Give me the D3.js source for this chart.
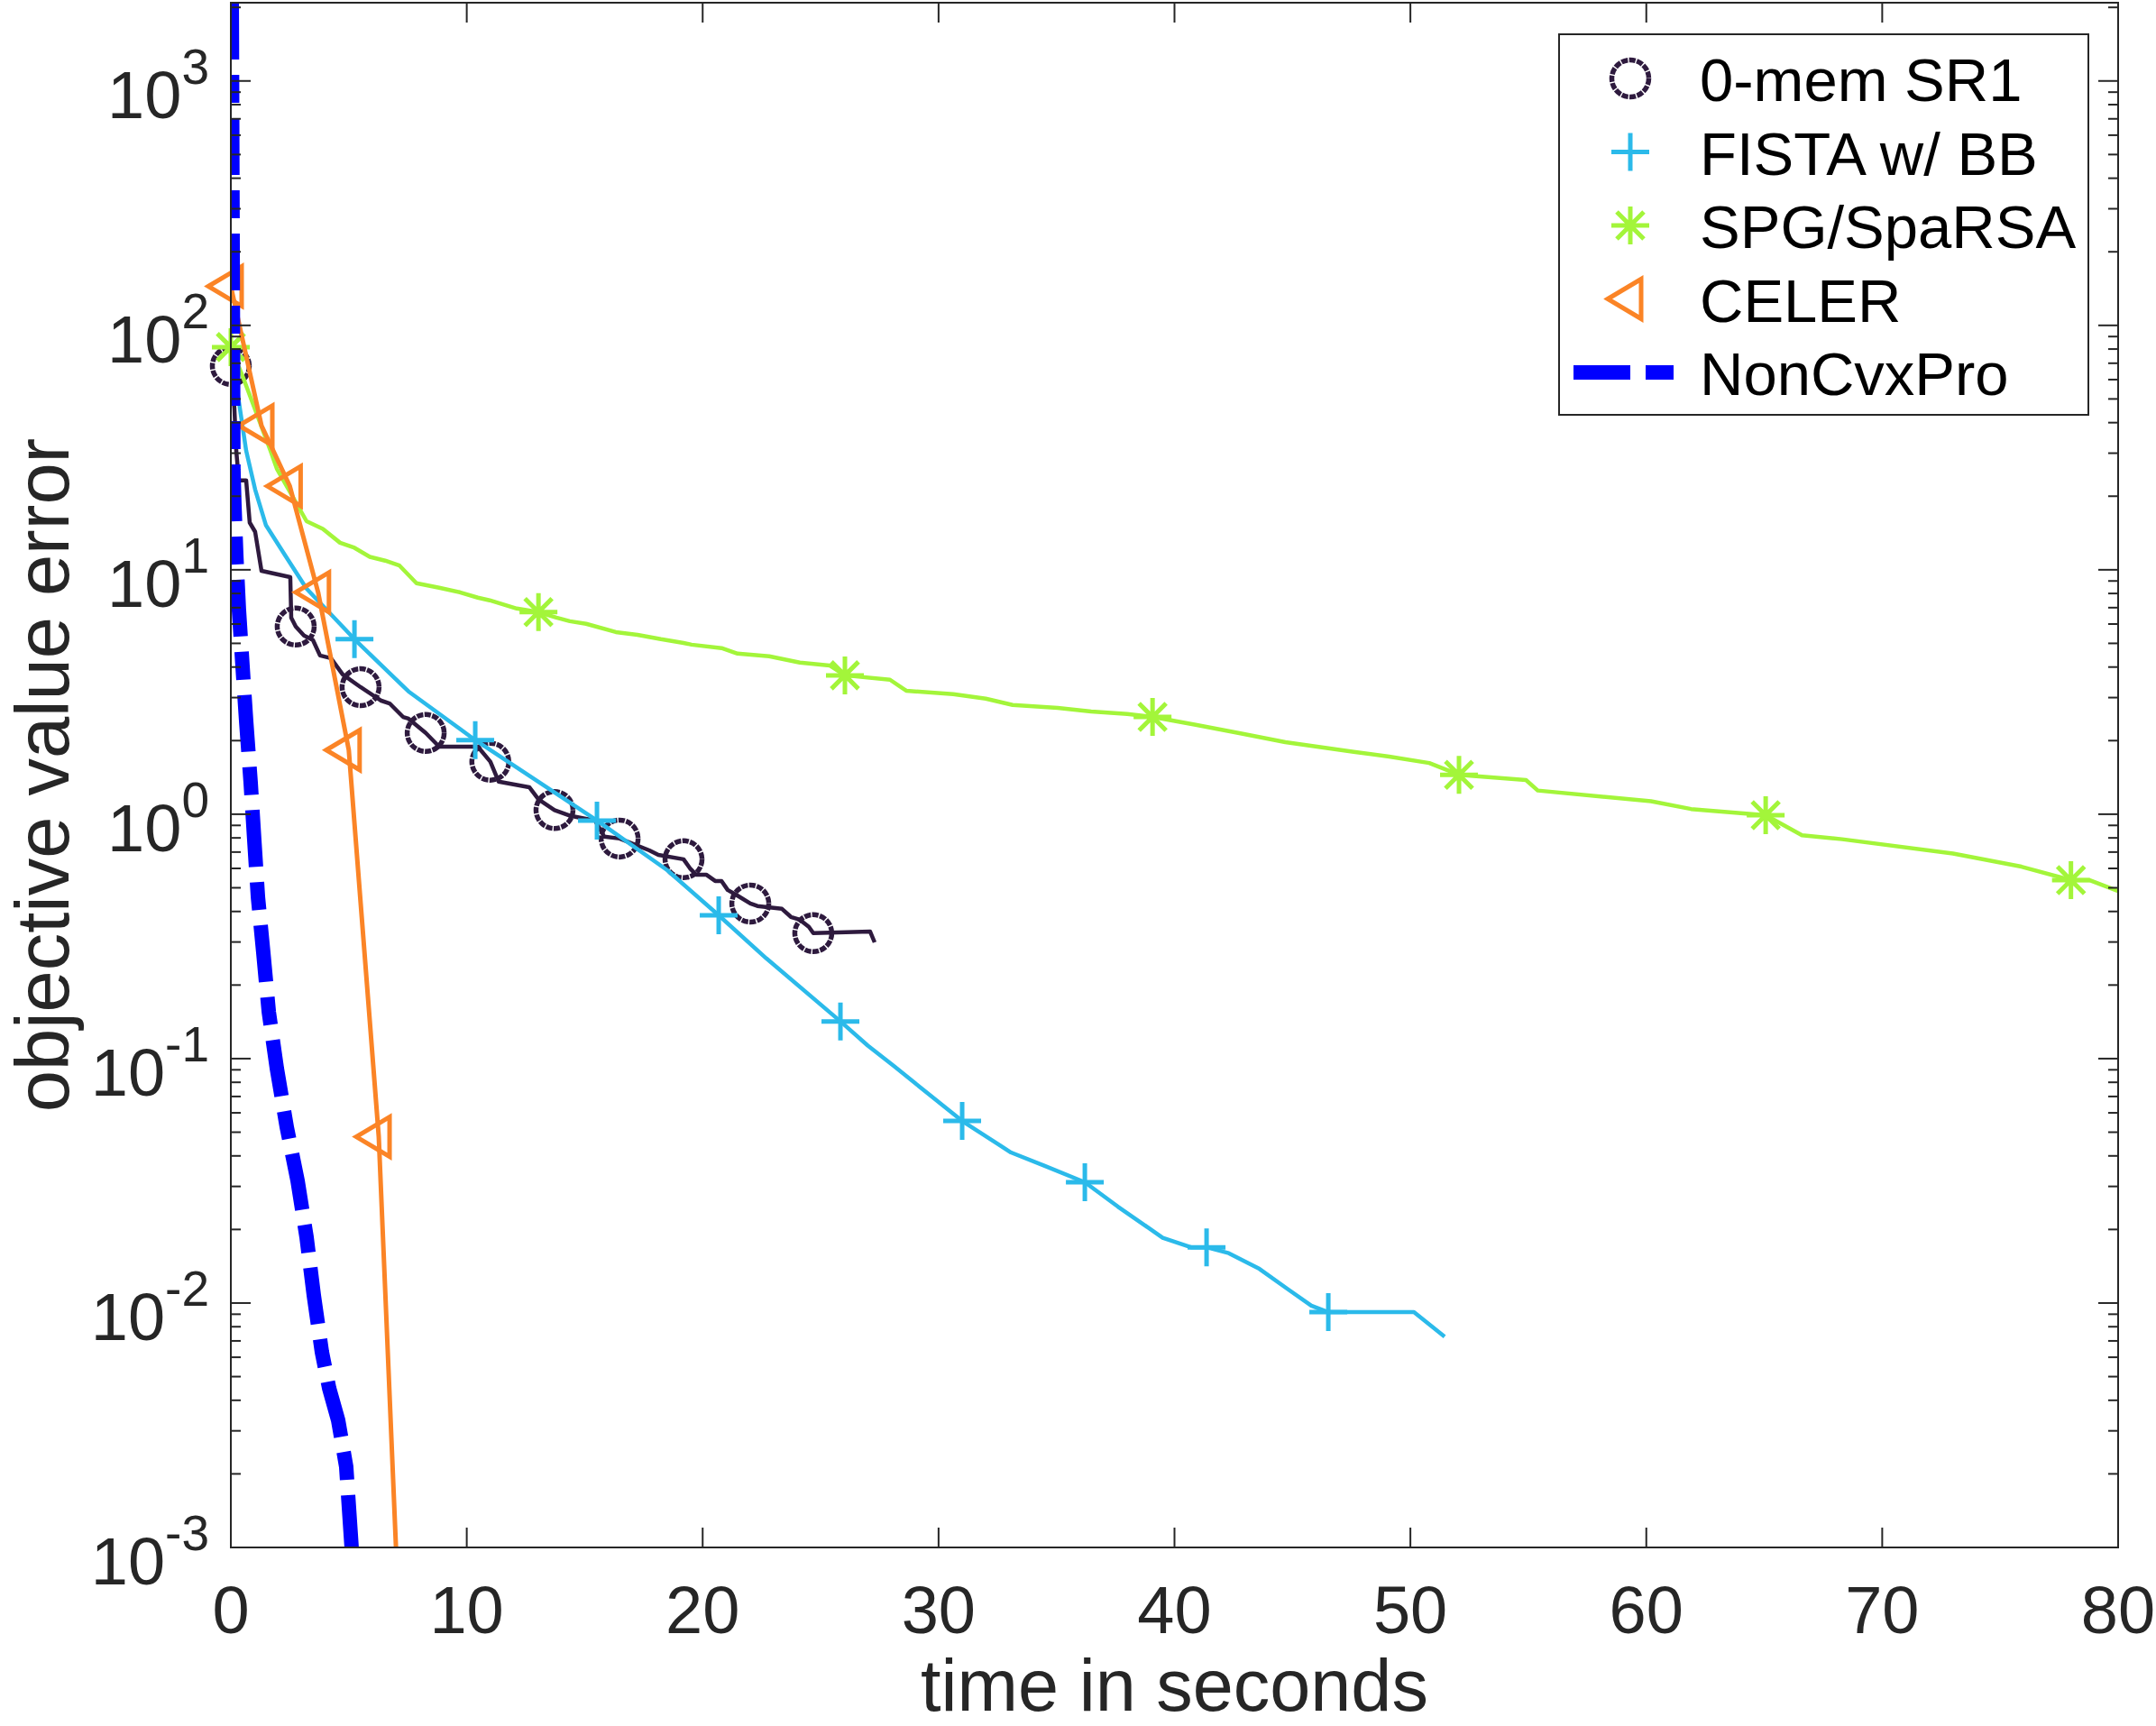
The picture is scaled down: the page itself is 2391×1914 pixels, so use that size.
<!DOCTYPE html>
<html><head><meta charset="utf-8">
<script src="https://cdn.jsdelivr.net/npm/d3@7"></script>
<style>
body{margin:0;background:#fff}
svg{display:block}
text{font-family:"Liberation Sans",Arial,Helvetica,sans-serif}
</style>
</head><body>
<svg id="c" width="2391" height="1914"></svg>
<script>
// ---------------- data ----------------
const xDomain = [0, 80];
const yDomain = [1e-3, 2090];
const xTicks = [0, 10, 20, 30, 40, 50, 60, 70, 80];
const yTickExps = [-3, -2, -1, 0, 1, 2, 3];

const seriesNames = ["0-mem SR1", "FISTA w/ BB", "SPG/SpaRSA", "CELER", "NonCvxPro"];

// 0-mem SR1
const sr1T = [0, 0.15, 0.23, 0.34, 0.65, 0.80, 1.03, 1.30, 2.52, 2.56, 2.75, 3.10, 3.48, 3.78, 4.24, 4.74, 5.50, 6.35, 6.73, 7.30, 7.53, 8.26, 8.83, 10.47, 11.0, 11.35, 12.65, 13.04, 13.72, 14.41, 15.44, 15.83, 16.48, 17.74, 18.12, 19.19, 19.46, 19.72, 20.15, 20.53, 20.80, 21.06, 21.45, 22.02, 22.32, 23.36, 23.74, 24.12, 24.50, 24.69, 27.10, 27.29];
const sr1V = [68.2, 45.8, 30.7, 23.2, 23.2, 15.6, 14.3, 9.9, 9.33, 6.37, 5.86, 5.38, 5.16, 4.46, 4.35, 3.73, 3.31, 2.92, 2.84, 2.50, 2.46, 2.15, 1.89, 1.89, 1.64, 1.36, 1.29, 1.15, 1.04, 0.984, 0.942, 0.809, 0.795, 0.711, 0.682, 0.654, 0.601, 0.566, 0.566, 0.533, 0.533, 0.490, 0.466, 0.431, 0.421, 0.410, 0.380, 0.370, 0.346, 0.326, 0.331, 0.299];
const sr1MarkT = [0, 2.75, 5.50, 8.26, 11.0, 13.72, 16.48, 19.19, 22.02, 24.69];
const sr1MarkV = [68.2, 5.86, 3.31, 2.15, 1.64, 1.04, 0.795, 0.654, 0.431, 0.326];

// FISTA w/ BB
const fistaT = [0, 0.27, 0.65, 1.03, 1.49, 2.33, 3.21, 5.24, 7.53, 10.36, 15.52, 18.5, 20.68, 22.7, 25.84, 27.0, 28.1, 31.0, 33.07, 34.5, 36.2, 37.6, 39.5, 40.7, 41.36, 42.3, 43.6, 44.8, 45.8, 46.52, 50.15, 51.45];
const fistaV = [79, 54.2, 30.7, 21.3, 15.2, 11.35, 8.37, 5.20, 3.18, 2.01, 0.942, 0.590, 0.386, 0.257, 0.142, 0.113, 0.0933, 0.0556, 0.0413, 0.0364, 0.0312, 0.0248, 0.0185, 0.0169, 0.0169, 0.0160, 0.0138, 0.0114, 0.00975, 0.00918, 0.00918, 0.00729];
const fistaMarkT = [5.24, 10.36, 15.52, 20.68, 25.84, 31.0, 36.2, 41.36, 46.52];
const fistaMarkV = [5.20, 2.01, 0.942, 0.386, 0.142, 0.0556, 0.0312, 0.0169, 0.00918];

// SPG/SpaRSA
const spgT = [0, 0.54, 1.68, 1.95, 2.45, 3.21, 3.90, 4.63, 5.24, 5.89, 6.54, 7.15, 7.87, 8.83, 9.71, 10.47, 10.97, 12.12, 13.04, 13.80, 14.37, 15.06, 16.32, 17.24, 18.23, 19.19, 19.53, 20.80, 21.48, 22.82, 24.12, 25.38, 26.03, 27.94, 28.63, 30.62, 32.0, 33.14, 35.05, 36.47, 38.0, 39.07, 40.9, 42.7, 44.7, 47.6, 49.1, 50.8, 52.06, 54.9, 55.4, 60.2, 61.9, 65.06, 66.6, 68.3, 73.0, 75.9, 78.0, 78.8, 80];
const spgV = [81.5, 60.5, 30.7, 25.9, 21.3, 15.8, 14.7, 12.9, 12.3, 11.3, 10.9, 10.4, 8.81, 8.44, 8.09, 7.69, 7.50, 6.94, 6.71, 6.37, 6.16, 6.01, 5.56, 5.42, 5.20, 5.02, 4.94, 4.78, 4.54, 4.43, 4.17, 4.06, 3.70, 3.55, 3.20, 3.10, 2.97, 2.80, 2.72, 2.63, 2.57, 2.50, 2.32, 2.15, 1.97, 1.80, 1.72, 1.62, 1.45, 1.38, 1.25, 1.13, 1.05, 0.99, 0.82, 0.79, 0.69, 0.61, 0.537, 0.537, 0.485];
const spgMarkT = [0, 13.04, 26.03, 39.07, 52.06, 65.06, 78.0];
const spgMarkV = [81.5, 6.71, 3.70, 2.50, 1.45, 0.99, 0.537];

// CELER
const celerT = [0, 1.3, 2.5, 3.7, 5.0, 6.27, 7.0];
const celerV = [144.5, 38.9, 22.0, 8.09, 1.83, 0.0479, 0.001];
const celerMarkT = [0, 1.3, 2.5, 3.7, 5.0, 6.27];
const celerMarkV = [144.5, 38.9, 22.0, 8.09, 1.83, 0.0479];

// NonCvxPro
const ncT = [0.04, 0.11, 0.15, 0.23, 0.34, 0.50, 0.65, 0.84, 0.99, 1.15, 1.38, 1.61, 1.95, 2.37, 2.83, 3.21, 3.52, 3.86, 4.17, 4.55, 4.89, 5.12];
const ncV = [2090, 25.7, 18.6, 11.5, 6.92, 3.98, 2.40, 1.35, 0.794, 0.457, 0.269, 0.155, 0.0912, 0.0525, 0.0316, 0.0186, 0.0107, 0.0063, 0.00447, 0.00331, 0.00214, 0.001];

// ---------------- layout / style ----------------
const W = 2391, H = 1914;
const M = {l: 256, r: 2349, t: 3, b: 1716};
const AX = "#262626";
const colors = {sr1: "#2e1a3e", fista: "#2bbaea", spg: "#a3f53a", celer: "#fb8426", nc: "#0000ff"};

const svg = d3.select("#c");
svg.append("rect").attr("width", W).attr("height", H).attr("fill", "#fff");

const x = d3.scaleLinear().domain(xDomain).range([M.l, M.r]);
const y = d3.scaleLog().domain(yDomain).range([M.b, M.t]);

svg.append("defs").append("clipPath").attr("id", "plotclip")
  .append("rect").attr("x", M.l).attr("y", M.t).attr("width", M.r - M.l).attr("height", M.b - M.t);

const line = d3.line().x(d => x(d[0])).y(d => y(d[1]));
const zip = (a, b) => a.map((v, i) => [v, b[i]]);

const plot = svg.append("g");

function drawMarker(g, type, cx, cy, color) {
  const mg = g.append("g").attr("transform", `translate(${cx},${cy})`)
    .attr("fill", "none").attr("stroke", color);
  if (type === "circle") {
    mg.append("circle").attr("r", 20.5).attr("stroke-width", 5.5).attr("stroke-dasharray", "7.2 1.4");
  } else if (type === "plus") {
    mg.append("path").attr("d", "M-21,0H21M0,-21V21").attr("stroke-width", 5);
  } else if (type === "star") {
    mg.append("path").attr("d", "M-21,0H21M0,-21V21M-15,-15L15,15M-15,15L15,-15").attr("stroke-width", 5);
  } else if (type === "tri") {
    mg.append("path").attr("d", "M-25,0L12,-22L12,22Z").attr("stroke-width", 5).attr("stroke-linejoin", "miter");
  }
}

function series(T, V, mT, mV, color, type, width) {
  plot.append("path").datum(zip(T, V)).attr("d", line)
    .attr("fill", "none").attr("stroke", color).attr("stroke-width", width)
    .attr("stroke-linejoin", "round").attr("clip-path", "url(#plotclip)");
  const g = plot.append("g");
  zip(mT, mV).forEach(d => drawMarker(g, type, x(d[0]), y(d[1]), color));
}

series(sr1T, sr1V, sr1MarkT, sr1MarkV, colors.sr1, "circle", 4.5);
series(fistaT, fistaV, fistaMarkT, fistaMarkV, colors.fista, "plus", 4.5);
series(spgT, spgV, spgMarkT, spgMarkV, colors.spg, "star", 4.5);
series(celerT, celerV, celerMarkT, celerMarkV, colors.celer, "tri", 5);

plot.append("path").datum(zip(ncT, ncV)).attr("d", line)
  .attr("fill", "none").attr("stroke", colors.nc).attr("stroke-width", 16)
  .attr("stroke-dasharray", "63 17 31 17").attr("stroke-linecap", "butt")
  .attr("clip-path", "url(#plotclip)");

// ---------------- axes ----------------
const ax = svg.append("g").attr("stroke", AX).attr("stroke-width", 2);
ax.append("rect").attr("x", M.l).attr("y", M.t).attr("width", M.r - M.l).attr("height", M.b - M.t).attr("fill", "none");

xTicks.forEach(v => {
  ax.append("line").attr("x1", x(v)).attr("x2", x(v)).attr("y1", M.b).attr("y2", M.b - 22);
  ax.append("line").attr("x1", x(v)).attr("x2", x(v)).attr("y1", M.t).attr("y2", M.t + 22);
});
yTickExps.forEach(e => {
  const v = Math.pow(10, e);
  ax.append("line").attr("x1", M.l).attr("x2", M.l + 22).attr("y1", y(v)).attr("y2", y(v));
  ax.append("line").attr("x1", M.r).attr("x2", M.r - 22).attr("y1", y(v)).attr("y2", y(v));
  for (let m = 2; m <= 9; m++) {
    const mv = m * v;
    if (mv > yDomain[1]) break;
    ax.append("line").attr("x1", M.l).attr("x2", M.l + 11).attr("y1", y(mv)).attr("y2", y(mv));
    ax.append("line").attr("x1", M.r).attr("x2", M.r - 11).attr("y1", y(mv)).attr("y2", y(mv));
  }
});

const tl = svg.append("g").attr("fill", AX);
xTicks.forEach(v => {
  tl.append("text").attr("x", x(v)).attr("y", 1811).attr("text-anchor", "middle")
    .attr("font-size", 74).text(v);
});
yTickExps.forEach(e => {
  const t = tl.append("text").attr("x", M.l - 24).attr("y", y(Math.pow(10, e)) + 41)
    .attr("text-anchor", "end").attr("font-size", 74);
  t.append("tspan").text("10");
  t.append("tspan").attr("dy", -38).attr("font-size", 55).text(String(e));
});

tl.append("text").attr("x", (M.l + M.r) / 2).attr("y", 1897).attr("text-anchor", "middle")
  .attr("font-size", 81).text("time in seconds");
tl.append("text").attr("transform", `translate(76,${(M.t + M.b) / 2}) rotate(-90)`)
  .attr("text-anchor", "middle").attr("font-size", 83).text("objective value error");

// ---------------- legend ----------------
const lg = svg.append("g");
lg.append("rect").attr("x", 1729).attr("y", 38).attr("width", 587).attr("height", 422)
  .attr("fill", "#fff").attr("stroke", AX).attr("stroke-width", 2);
const legendTypes = ["circle", "plus", "star", "tri", "line"];
const legendColors = [colors.sr1, colors.fista, colors.spg, colors.celer, colors.nc];
seriesNames.forEach((name, i) => {
  const cy = 87 + i * 81.5;
  if (legendTypes[i] === "line") {
    lg.append("line").attr("x1", 1745).attr("x2", 1856).attr("y1", cy).attr("y2", cy)
      .attr("stroke", legendColors[i]).attr("stroke-width", 16)
      .attr("stroke-dasharray", "63 17 31 17");
  } else {
    drawMarker(lg, legendTypes[i], 1808, cy, legendColors[i]);
  }
  lg.append("text").attr("x", 1885).attr("y", cy + 25).attr("font-size", 67)
    .attr("fill", "#000").text(name);
});
</script>
</body></html>
